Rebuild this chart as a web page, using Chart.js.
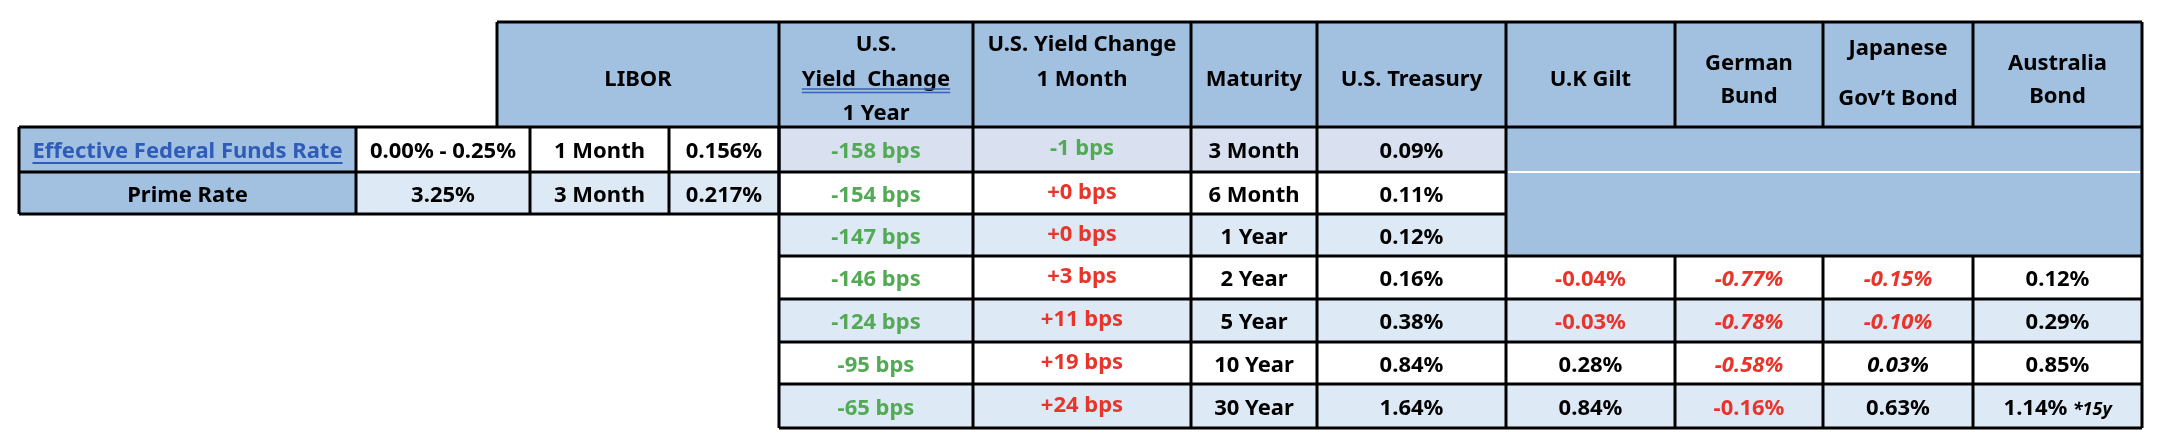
<!DOCTYPE html>
<html>
<head>
<meta charset="utf-8">
<script src="https://cdn.jsdelivr.net/npm/chart.js@4.4.1/dist/chart.umd.min.js"></script>
<style>
  html, body { margin: 0; padding: 0; background: #fff; }
  #wrap { width: 2162px; height: 436px; }
</style>
</head>
<body>
<div id="wrap"><canvas id="ratesTable"></canvas></div>
<script>
// Table data
const columnHeaders = [
  ['LIBOR'],
  ['U.S.', 'Yield  Change', '1 Year'],
  ['U.S. Yield Change', '1 Month'],
  ['Maturity'],
  ['U.S. Treasury'],
  ['U.K Gilt'],
  ['German', 'Bund'],
  ['Japanese', 'Gov\u2019t Bond'],
  ['Australia', 'Bond']
];
const maturities = ['3 Month', '6 Month', '1 Year', '2 Year', '5 Year', '10 Year', '30 Year'];
const yieldChange1Y = [-158, -154, -147, -146, -124, -95, -65];   // bps
const yieldChange1M = [-1, 0, 0, 3, 11, 19, 24];                  // bps
const usTreasury = [0.09, 0.11, 0.12, 0.16, 0.38, 0.84, 1.64];
const ukGilt = [null, null, null, -0.04, -0.03, 0.28, 0.84];
const germanBund = [null, null, null, -0.77, -0.78, -0.58, -0.16];
const japanBond = [null, null, null, -0.15, -0.10, 0.03, 0.63];
const australiaBond = [null, null, null, 0.12, 0.29, 0.85, 1.14];
const australiaNote = '*15y';
const policyLabels = ['Effective Federal Funds Rate', 'Prime Rate'];
const policyRates = ['0.00% - 0.25%', '3.25%'];
const liborTenors = ['1 Month', '3 Month'];
const liborRates = [0.156, 0.217];

// Layout (canvas units, mapped through the hidden scales)
const colEdges = [497, 779, 973, 1191, 1317, 1506, 1675, 1823, 1973, 2142];
const leftEdges = [19, 356, 530, 669, 779];
const rowEdges = [22, 127, 172, 214, 256, 299, 342, 384, 428];

// italic cells: "column,row"
const italicCells = ['6,3', '6,4', '6,5', '7,3', '7,4', '7,5'];

const HEADER_BLUE = '#a2c1e1';
const ROW_LIGHT = '#dde9f5';
const ROW_FIRST = '#d9e1f1';
const GREEN = '#52aa55';
const RED = '#e8342a';
const FONT = '"Liberation Sans Narrow", "Noto Sans", sans-serif';

function bps(v) {
  return (v < 0 ? '' : '+') + v + ' bps';
}
function pct(v, digits) {
  return v.toFixed(digits) + '%';
}

const tablePlugin = {
  id: 'tablePlugin',
  afterDraw(chart) {
    const ctx = chart.ctx;
    const xs = chart.scales.x, ys = chart.scales.y;
    const X = v => xs.getPixelForValue(v);
    const Y = v => ys.getPixelForValue(v);

    function rect(x0, y0, x1, y1, fill) {
      ctx.fillStyle = fill;
      ctx.fillRect(X(x0), Y(y0), X(x1) - X(x0), Y(y1) - Y(y0));
    }
    function line(x0, y0, x1, y1, color, w) {
      ctx.strokeStyle = color;
      ctx.lineWidth = w;
      ctx.beginPath();
      ctx.moveTo(X(x0), Y(y0));
      ctx.lineTo(X(x1), Y(y1));
      ctx.stroke();
    }
    // cy is the visual middle of the capitals
    function text(str, cx, cy, color, italic, size) {
      ctx.font = (italic ? 'italic ' : '') + 'bold ' + (size || 22) + 'px ' + FONT;
      ctx.fillStyle = color;
      ctx.textAlign = 'center';
      ctx.textBaseline = 'alphabetic';
      ctx.fillText(str, X(cx), Y(cy + 8));
      return ctx.measureText(str).width;
    }

    ctx.save();

    // header fills
    rect(colEdges[0], rowEdges[0], colEdges[9], rowEdges[1], HEADER_BLUE);

    // body fills
    for (let r = 0; r < maturities.length; r++) {
      const fill = r === 0 ? ROW_FIRST : (r % 2 === 0 ? ROW_LIGHT : '#ffffff');
      rect(colEdges[1], rowEdges[r + 1], colEdges[5], rowEdges[r + 2], fill);
      if (r >= 3) rect(colEdges[5], rowEdges[r + 1], colEdges[9], rowEdges[r + 2], fill);
    }
    // merged blue block for foreign bonds on short maturities
    rect(colEdges[5], rowEdges[1], colEdges[9], rowEdges[4], HEADER_BLUE);

    // left table fills
    for (let r = 0; r < 2; r++) {
      rect(leftEdges[0], rowEdges[r + 1], leftEdges[1], rowEdges[r + 2], HEADER_BLUE);
      rect(leftEdges[1], rowEdges[r + 1], leftEdges[4], rowEdges[r + 2], r === 0 ? '#ffffff' : ROW_LIGHT);
    }

    // grid lines
    const K = '#000000';
    const lw = 3;
    // header box
    for (let c = 0; c < colEdges.length; c++) {
      line(colEdges[c], rowEdges[0], colEdges[c], rowEdges[1], K, lw);
    }
    line(colEdges[0], rowEdges[0], colEdges[9], rowEdges[0], K, lw);
    line(leftEdges[0], rowEdges[1], colEdges[9], rowEdges[1], K, lw);
    // body verticals
    for (let c = 1; c <= 5; c++) line(colEdges[c], rowEdges[1], colEdges[c], rowEdges[8], K, lw);
    for (let c = 6; c <= 8; c++) line(colEdges[c], rowEdges[4], colEdges[c], rowEdges[8], K, lw);
    line(colEdges[9], rowEdges[1], colEdges[9], rowEdges[8], K, lw);
    // body horizontals
    for (let r = 2; r <= 8; r++) {
      if (r === 2) {
        line(colEdges[1], rowEdges[r], colEdges[5], rowEdges[r], K, lw);
        line(colEdges[5] + 2, rowEdges[r], colEdges[9] - 2, rowEdges[r], '#ffffff', 2);
      } else if (r === 3) {
        line(colEdges[1], rowEdges[r], colEdges[5], rowEdges[r], K, lw);
      } else {
        line(colEdges[1], rowEdges[r], colEdges[9], rowEdges[r], K, lw);
      }
    }
    // left table lines
    for (let c = 0; c < leftEdges.length; c++) line(leftEdges[c], rowEdges[1], leftEdges[c], rowEdges[3], K, lw);
    line(leftEdges[0], rowEdges[2], leftEdges[4], rowEdges[2], K, lw);
    line(leftEdges[0], rowEdges[3], leftEdges[4], rowEdges[3], K, lw);

    // header text
    const hMid = (rowEdges[0] + rowEdges[1]) / 2;
    columnHeaders.forEach((lines, c) => {
      const cx = (colEdges[c] + colEdges[c + 1]) / 2;
      let top, gap;
      if (c === 1 || c === 2) { top = 43; gap = 34.5; }          // top aligned
      else if (c === 7) { top = 47; gap = 50; }
      else if (lines.length === 2) { top = 62; gap = 33; }
      else { top = 78; gap = 0; }
      lines.forEach((s, i) => {
        const cy = top + i * gap;
        const w = text(s, cx, cy, '#000000', false);
        if (c === 1 && i === 1) {
          // double underline
          line(cx - w / 2, cy + 11.5, cx + w / 2, cy + 11.5, '#3a62b5', 1.6);
          line(cx - w / 2, cy + 15, cx + w / 2, cy + 15, '#3a62b5', 1.6);
        }
      });
    });

    // body text
    for (let r = 0; r < maturities.length; r++) {
      const cy = (rowEdges[r + 1] + rowEdges[r + 2]) / 2 + 0.5;
      const mid = c => (colEdges[c] + colEdges[c + 1]) / 2;
      text(bps(yieldChange1Y[r]), mid(1), cy, yieldChange1Y[r] < 0 ? GREEN : RED, false);
      text(bps(yieldChange1M[r]), mid(2), cy - 3, yieldChange1M[r] < 0 ? GREEN : RED, false);
      text(maturities[r], mid(3), cy, '#000000', false);
      text(pct(usTreasury[r], 2), mid(4), cy, '#000000', false);
      [ukGilt, germanBund, japanBond, australiaBond].forEach((series, k) => {
        const v = series[r];
        if (v === null) return;
        const c = 5 + k;
        const it = italicCells.includes(c + ',' + r);
        const col = v < 0 ? RED : '#000000';
        if (c === 8 && r === maturities.length - 1) {
          ctx.font = 'bold 22px ' + FONT;
          const w1 = ctx.measureText(pct(v, 2) + ' ').width;
          ctx.font = 'italic bold 18px ' + FONT;
          const w2 = ctx.measureText(australiaNote).width;
          const x0 = mid(c) - (w1 + w2) / 2;
          text(pct(v, 2), x0 + (w1 - 5) / 2, cy, col, false);
          text(australiaNote, x0 + w1 + w2 / 2, cy, col, true, 18);
        } else {
          text(pct(v, 2), mid(c), cy, col, it);
        }
      });
    }

    // left table text
    for (let r = 0; r < 2; r++) {
      const cy = (rowEdges[r + 1] + rowEdges[r + 2]) / 2 + 0.5;
      const lx = (leftEdges[0] + leftEdges[1]) / 2;
      if (r === 0) {
        const w = text(policyLabels[r], lx, cy, '#2e5cb8', false);
        line(lx - w / 2, cy + 13, lx + w / 2, cy + 13, '#2e5cb8', 2);
      } else {
        text(policyLabels[r], lx, cy, '#000000', false);
      }
      text(policyRates[r], (leftEdges[1] + leftEdges[2]) / 2, cy, '#000000', false);
      text(liborTenors[r], (leftEdges[2] + leftEdges[3]) / 2, cy, '#000000', false);
      text(pct(liborRates[r], 3), (leftEdges[3] + leftEdges[4]) / 2, cy, '#000000', false);
    }

    ctx.restore();
  }
};

new Chart(document.getElementById('ratesTable'), {
  type: 'scatter',
  data: { datasets: [{ data: [] }] },
  options: {
    responsive: true,
    maintainAspectRatio: false,
    animation: false,
    events: [],
    layout: { padding: 0 },
    plugins: { legend: { display: false }, tooltip: { enabled: false } },
    scales: {
      x: { type: 'linear', min: 0, max: 2162, display: false },
      y: { type: 'linear', min: 0, max: 436, reverse: true, display: false }
    }
  },
  plugins: [tablePlugin]
});
</script>
</body>
</html>
